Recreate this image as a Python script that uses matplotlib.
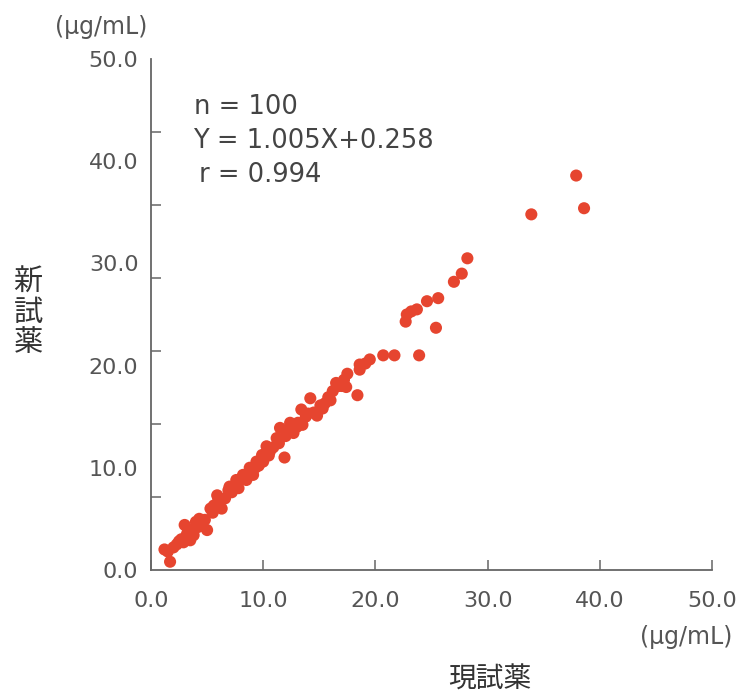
import matplotlib
matplotlib.use("Agg")
import matplotlib.pyplot as plt
import numpy as np

# 現試薬 (x) と 新試薬 (y) の測定値 (μg/mL)
x_cur = [1.2, 1.7, 1.5, 2.0, 2.3, 2.7, 2.9, 3.0, 3.2, 3.4, 3.6, 3.8, 3.3, 4.0, 4.2, 4.5, 4.8, 5.0,
         5.3, 5.6, 5.9, 6.1, 6.3, 6.6, 6.9, 7.0, 7.2, 7.5, 7.6, 7.8, 8.2, 8.2, 8.5, 8.8, 8.8, 9.1,
         9.4, 9.6, 9.9, 10.0, 10.3, 10.6, 10.9, 11.2, 11.4, 11.5, 11.9, 12.0, 12.4, 12.7, 13.1, 13.4,
         13.5, 13.8, 14.2, 14.5, 14.8, 15.1, 15.3, 15.8, 16.0, 16.2, 16.5, 16.7, 17.0, 17.4, 17.5, 18.4,
         18.6, 18.6, 19.1, 19.5,
         20.7, 21.7, 23.9, 22.7, 22.8, 23.2, 23.7, 24.6, 25.6, 25.4, 27.0, 27.7, 28.2, 33.9, 37.9, 38.6,
         2.5, 3.5, 4.3, 5.5, 6.0, 9.3, 10.5, 12.2, 13.0, 14.0, 15.5, 17.2]
y_new = [2.0, 0.8, 1.8, 2.2, 2.5, 3.0, 2.7, 4.4, 3.5, 3.2, 3.9, 3.4, 4.0, 4.7, 4.2, 4.5, 4.9, 3.9,
         6.0, 6.3, 7.3, 6.6, 6.0, 7.0, 7.8, 8.15, 7.6, 8.3, 8.8, 8.0, 9.0, 9.3, 8.8, 9.6, 10.0, 9.3,
         10.6, 10.2, 11.25, 10.6, 12.1, 11.6, 12.0, 12.9, 12.4, 13.9, 11.0, 13.1, 14.4, 13.4, 14.4, 15.7,
         14.2, 15.0, 16.8, 15.4, 15.1, 16.1, 15.8, 16.9, 16.6, 17.5, 18.3, 18.0, 18.0, 17.9, 19.2, 17.1,
         19.6, 20.1, 20.2, 20.6,
         21.0, 21.0, 21.0, 24.3, 25.0, 25.3, 25.5, 26.3, 26.6, 23.7, 28.2, 29.0, 30.5, 34.8, 38.6, 35.4,
         2.8, 2.9, 5.0, 5.6, 7.0, 10.0, 11.2, 13.6, 14.0, 15.3, 16.3, 18.6]

xticks = [0, 10, 20, 30, 40, 50]
xticklabels = ["0.0", "10.0", "20.0", "30.0", "40.0", "50.0"]
stats = ["n = 100", "Y = 1.005X+0.258", "r = 0.994"]

grey = "#555555"
jp = ["Noto Sans CJK JP", "DejaVu Sans"]

fig = plt.figure(figsize=(7.42, 6.95), dpi=100)
ax = fig.add_axes([0.2035, 0.18, 0.756, 0.735])

ax.scatter(x_cur, y_new, s=76, color="#e6452f", edgecolors="none", clip_on=False, zorder=3)

ax.set_xlim(0, 50)
ax.set_ylim(0, 50)
for s in ["top", "right"]:
    ax.spines[s].set_visible(False)
for s in ["left", "bottom"]:
    ax.spines[s].set_color("#666666")
    ax.spines[s].set_linewidth(1.3)

# x軸
ax.set_xticks(xticks)
ax.set_xticklabels(xticklabels)
ax.tick_params(axis="x", direction="in", length=7, width=1.1, color="#666666",
               labelsize=16, labelcolor=grey, pad=15)

# y軸: 目盛線とラベルの位置がずれている
ax.set_yticks(xticks)
ax.set_yticklabels(xticklabels)
ax.tick_params(axis="y", which="major", length=0, labelsize=16, labelcolor=grey, pad=9)
ax.set_yticks(np.linspace(0, 50, 8), minor=True)
ax.tick_params(axis="y", which="minor", direction="in", length=7.5, width=1.1, color="#666666")

# 統計値
xs = [0.262, 0.260, 0.268]
for i, t in enumerate(stats):
    fig.text(xs[i], 0.846 - i * 0.049, t, fontsize=18.5, color="#444444", va="center", ha="left")

# 単位とラベル
fig.text(0.137, 0.961, "(μg/mL)", fontsize=17, color=grey, ha="center", va="center")
fig.text(0.925, 0.084, "(μg/mL)", fontsize=17, color=grey, ha="center", va="center")
fig.text(0.66, 0.022, "現試薬", fontsize=20, color="#333333", ha="center", va="center", family=jp)
fig.text(0.038, 0.55, "新\n試\n薬", fontsize=21, color="#333333", ha="center", va="center",
         family=jp, linespacing=1.0)

fig.savefig("out.png", dpi=100)
